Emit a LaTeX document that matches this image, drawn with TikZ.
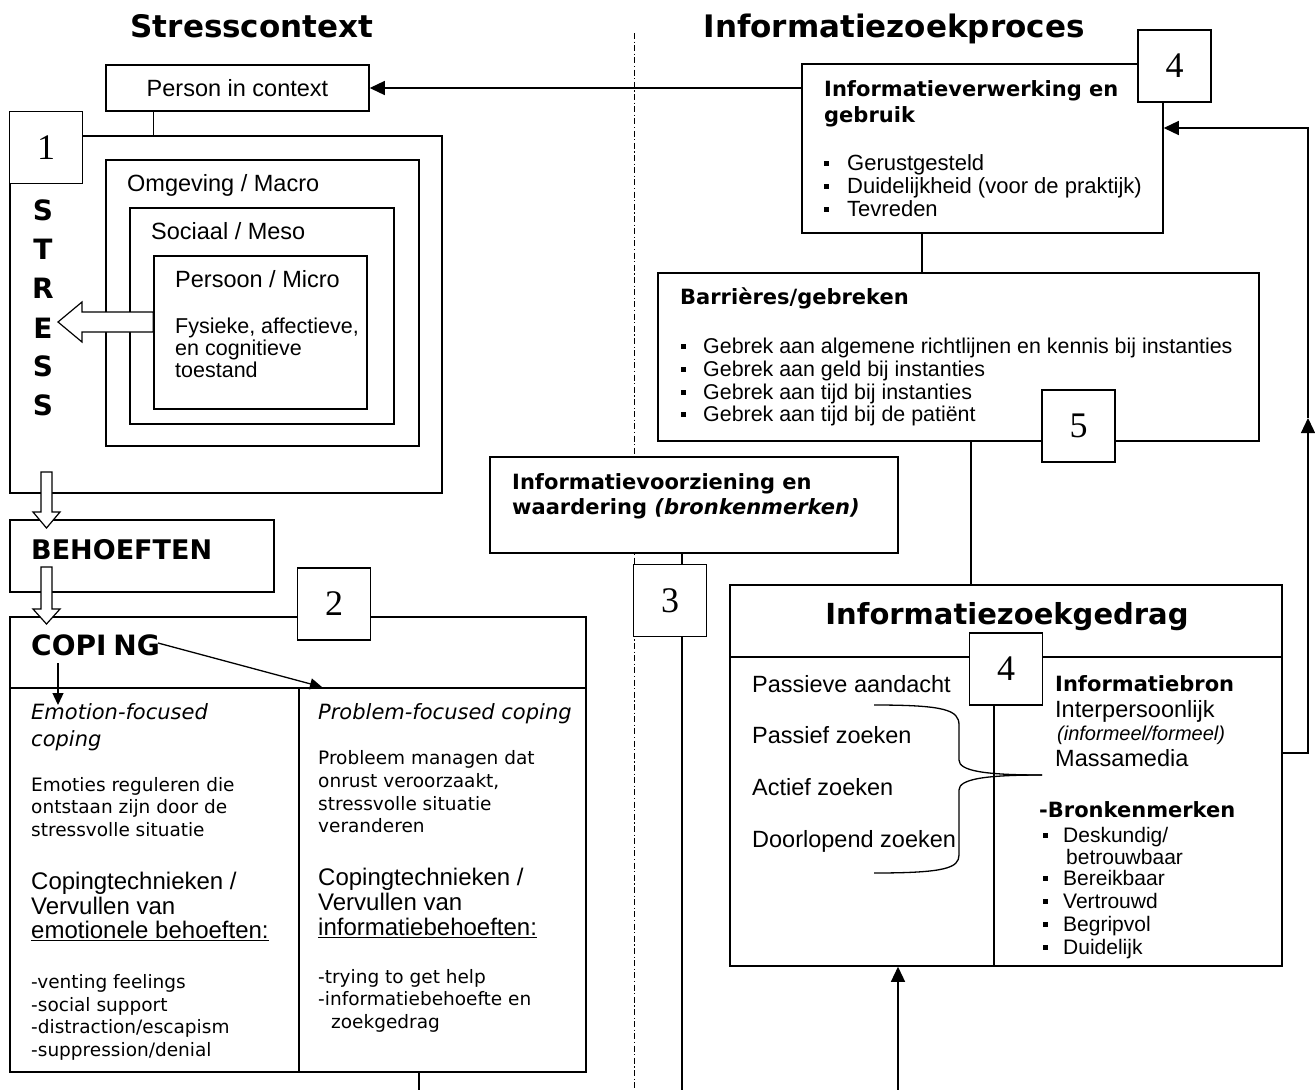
\documentclass[tikz,border=0pt]{standalone}
\usepackage{fontspec}
\setmainfont{DejaVu Sans}
\newfontfamily\arf{Liberation Sans}
\newfontfamily\tmf{Liberation Serif}
\usetikzlibrary{arrows.meta,calc}
\newcommand\fs[1]{\fontsize{#1}{#1}\selectfont}
% name, x, y-center, size, font, text
\newcommand\T[6]{\node[anchor=base west, inner sep=0pt, font={#5\fs{#4}}] (#1) at (#2,{#3+0.3*#4}) {#6};}
\newcommand\TC[6]{\node[anchor=base, inner sep=0pt, font={#5\fs{#4}}] (#1) at (#2,{#3+0.3*#4}) {#6};}
\newcommand\mybox[5]{\node[box, minimum width={(#4-#2)*1pt}, minimum height={(#5-#3)*1pt}] (#1) at ({(#2+#4)/2},{(#3+#5)/2}) {};}
\newcommand\bul[1]{\makebox[#1][l]{\rule[0.2em]{0.24em}{0.24em}}}
\begin{document}
\begin{tikzpicture}[x=1pt,y=-1pt,
  box/.style={draw, line width=1.5pt, fill=white, inner sep=0pt},
  numbox/.style={box, minimum width=73pt, minimum height=72pt, font=\tmf\fs{36}},
  conn/.style={line width=1.3pt},
  arr/.style={conn, -{Triangle[length=15pt,width=14pt]}},
  sarr/.style={conn, -{Triangle[length=12pt,width=11pt]}},
  hollow/.style={draw, line width=1.2pt, fill=white, line join=miter},
  divider/.style={line width=0.8pt, dash pattern=on 6pt off 2.5pt on 1.2pt off 2.5pt}]
\fill[white] (0,0) rectangle (1315,1090);
\useasboundingbox (0,0) rectangle (1315,1090);

% dash-dot separator
\coordinate (dtop) at (634,33);
\coordinate (dbot) at (634,1090);
\draw[divider] (dtop) -- (dbot);

% titles
\TC{tstress}{252}{28}{31}{\bfseries}{Stresscontext}
\TC{tinfo}{894}{28}{31}{\bfseries}{Informatiezoekproces}

% ---------- left side ----------
\node[box, minimum width=263pt, minimum height=46pt, font=\arf\fs{23.5}] (person) at (237.5,88) {Person in context};

\mybox{stress}{10}{136}{442}{493}
\mybox{omg}{106}{160}{419}{446}
\mybox{soc}{130}{208}{394}{424}
\mybox{pers}{154}{256}{367}{409}
\node[numbox] (b1) at (46,147.5) {1};

\draw[conn] (person.south -| pers.west) -- (stress.north -| pers.west);

\T{omgt}{127}{184}{23.5}{\arf}{Omgeving / Macro}
\T{soct}{151}{232}{23.5}{\arf}{Sociaal / Meso}
\T{perst}{175}{280}{23.5}{\arf}{Persoon / Micro}
\T{p1}{175}{327}{21.5}{\arf}{Fysieke, affectieve,}
\T{p2}{175}{349}{21.5}{\arf}{en cognitieve}
\T{p3}{175}{371}{21.5}{\arf}{toestand}

\foreach \l/\yy [count=\i] in {S/210,T/249,R/288,E/328,S/366,S/405}
  {\TC{st\i}{43}{\yy+2}{28}{\bfseries}{\l}}

% hollow arrow to STRESS
\draw[hollow] (pers.west |- 0,312) -- (82,312) -- (82,302) -- (58,322) -- (82,342) -- (82,332) -- (pers.west |- 0,332) -- cycle;

\mybox{beh}{10}{520}{274}{592}
\T{beht}{31}{551}{27}{\bfseries}{BEHOEFTEN}

\mybox{coping}{10}{617}{586}{1072}
\coordinate (hdiv) at (0,688);
\coordinate (vdiv) at (299,0);
\draw[line width=1.5pt] (coping.west |- hdiv) -- (coping.east |- hdiv);
\draw[line width=1.5pt] (vdiv |- hdiv) -- (vdiv |- coping.south);
\node[numbox] (b2) at (334,604) {2};
\T{copt}{31}{647}{28}{\bfseries}{COPI\kern7pt NG}

% hollow arrows down
\draw[hollow] (41,472) -- (41,512) -- (33,512) -- (46.5,528) -- (60,512) -- (52,512) -- (52,472) -- cycle;
\draw[hollow] (41,567) -- (41,609) -- (33,609) -- (46.5,624) -- (60,609) -- (52,609) -- (52,567) -- cycle;

% coping arrows
\coordinate (ca1) at (58,663);
\coordinate (ca2) at (58,705);
\coordinate (cb1) at (158,643);
\coordinate (cb2) at (322,687);
\draw[sarr] (ca1) -- (ca2);
\draw[sarr] (cb1) -- (cb2);

% left column
\T{e1}{31}{713}{21}{\itshape}{Emotion-focused}
\T{e2}{31}{740}{21}{\itshape}{coping}
\T{e3}{31}{786}{18.5}{}{Emoties reguleren die}
\T{e4}{31}{808}{18.5}{}{ontstaan zijn door de}
\T{e5}{31}{831}{18.5}{}{stressvolle situatie}
\T{e6}{31}{882}{24}{\arf}{Copingtechnieken /}
\T{e7}{31}{907}{24}{\arf}{Vervullen van}
\T{e8}{31}{931}{24}{\arf}{\underline{emotionele behoeften:}}
\T{e9}{31}{983}{18.5}{}{-venting feelings}
\T{e10}{31}{1006}{18.5}{}{-social support}
\T{e11}{31}{1028}{18.5}{}{-distraction/escapism}
\T{e12}{31}{1051}{18.5}{}{-suppression/denial}

% right column
\T{r1}{318}{713}{21}{\itshape}{Problem-focused coping}
\T{r2}{318}{759}{18.5}{}{Probleem managen dat}
\T{r3}{318}{782}{18.5}{}{onrust veroorzaakt,}
\T{r4}{318}{805}{18.5}{}{stressvolle situatie}
\T{r5}{318}{827}{18.5}{}{veranderen}
\T{r6}{318}{878}{24}{\arf}{Copingtechnieken /}
\T{r7}{318}{903}{24}{\arf}{Vervullen van}
\T{r8}{318}{928}{24}{\arf}{\underline{informatiebehoeften:}}
\T{r9}{318}{978}{18.5}{}{-trying to get help}
\T{r10}{318}{1000}{18.5}{}{-informatiebehoefte en}
\T{r11}{331}{1023}{18.5}{}{zoekgedrag}

\coordinate (cbot) at (419,1090);
\draw[conn] (coping.south -| cbot) -- (cbot);

% ---------- right side ----------
\mybox{info}{802}{64}{1163}{233}
\node[numbox] (b4a) at (1174.5,66) {4};
\draw[arr] (info.west |- person.east) -- (person.east);
\T{i1}{824}{90}{21}{\bfseries}{Informatieverwerking en}
\T{i2}{824}{116}{21}{\bfseries}{gebruik}
\T{i3}{824}{164}{22}{\arf}{\bul{23pt}Gerustgesteld}
\T{i4}{824}{187}{22}{\arf}{\bul{23pt}Duidelijkheid (voor de praktijk)}
\T{i5}{824}{210}{22}{\arf}{\bul{23pt}Tevreden}

\mybox{barr}{658}{273}{1259}{441}
\node[numbox] (b5) at (1078.5,426) {5};
\coordinate (x922) at (922,0);
\draw[conn] (info.south -| x922) -- (barr.north -| x922);
\T{ba1}{680}{298}{21}{\bfseries}{Barrières/gebreken}
\T{ba2}{681}{347}{21.4}{\arf}{\bul{22pt}Gebrek aan algemene richtlijnen en kennis bij instanties}
\T{ba3}{681}{370}{21.4}{\arf}{\bul{22pt}Gebrek aan geld bij instanties}
\T{ba4}{681}{393}{21.4}{\arf}{\bul{22pt}Gebrek aan tijd bij instanties}
\T{ba5}{681}{415}{21.4}{\arf}{\bul{22pt}Gebrek aan tijd bij de patiënt}

\mybox{voorz}{490}{457}{898}{553}
\T{v1}{512}{483}{21}{\bfseries}{Informatievoorziening en}
\T{v2}{512}{508}{21}{\bfseries}{waardering \textit{(bronkenmerken)}}

\node[numbox] (b3) at (670,600.5) {3};
\coordinate (x682) at (682,0);
\coordinate (bot682) at (682,1090);
\draw[conn] (voorz.south -| x682) -- (b3.north -| x682);
\draw[conn] (b3.south -| x682) -- (bot682);

\mybox{izg}{730}{585}{1282}{966}
\coordinate (x971) at (971,0);
\draw[conn] (barr.south -| x971) -- (izg.north -| x971);
\coordinate (hz) at (0,657);
\coordinate (vz) at (994,0);
\draw[line width=1.5pt] (izg.west |- hz) -- (izg.east |- hz);
\TC{izgt}{1007}{616}{29}{\bfseries}{Informatiezoekgedrag}
\node[numbox] (b4b) at (1006,669) {4};
\draw[line width=1.5pt] (b4b.south -| vz) -- (izg.south -| vz);

\T{z1}{752}{685}{23.5}{\arf}{Passieve aandacht}
\T{z2}{752}{736}{23.5}{\arf}{Passief zoeken}
\T{z3}{752}{788}{23.5}{\arf}{Actief zoeken}
\T{z4}{752}{840}{23.5}{\arf}{Doorlopend zoeken}

% brace
\coordinate (brtip) at (1042,775);
\draw[line width=1.3pt] (874,705) .. controls (945,705) and (959,710) .. (959,725) -- (959,760) .. controls (959,771) and (985,775) .. (brtip);
\draw[line width=1.3pt] (874,873) .. controls (945,873) and (959,868) .. (959,855) -- (959,790) .. controls (959,779) and (985,775) .. (brtip);

\T{s1}{1055}{685}{21}{\bfseries}{Informatiebron}
\T{s2}{1055}{710}{23.5}{\arf}{Interpersoonlijk}
\T{s3}{1057}{734}{20}{\arf\itshape}{(informeel/formeel)}
\T{s4}{1055}{759}{23.5}{\arf}{Massamedia}
\T{s5}{1039}{811}{21}{\bfseries}{-Bronkenmerken}
\T{s6}{1043}{836}{21}{\arf}{\bul{20pt}Deskundig/}
\T{s7}{1066}{858}{21}{\arf}{betrouwbaar}
\T{s8}{1043}{879}{21}{\arf}{\bul{20pt}Bereikbaar}
\T{s9}{1043}{902}{21}{\arf}{\bul{20pt}Vertrouwd}
\T{s10}{1043}{925}{21}{\arf}{\bul{20pt}Begripvol}
\T{s11}{1043}{948}{21}{\arf}{\bul{20pt}Duidelijk}

% arrow up into Informatiezoekgedrag
\coordinate (up0) at (898,1090);
\draw[arr] (up0) -- (izg.south -| up0);

% feedback loop on the right
\coordinate (rl1) at (1308,753);
\coordinate (rl2) at (1308,418);
\coordinate (rl3) at (1308,128);
\draw[arr] (izg.east |- rl1) -- (rl1) -- (rl2);
\draw[arr] (rl2) -- (rl3) -- (info.east |- rl3);
\end{tikzpicture}
\end{document}
